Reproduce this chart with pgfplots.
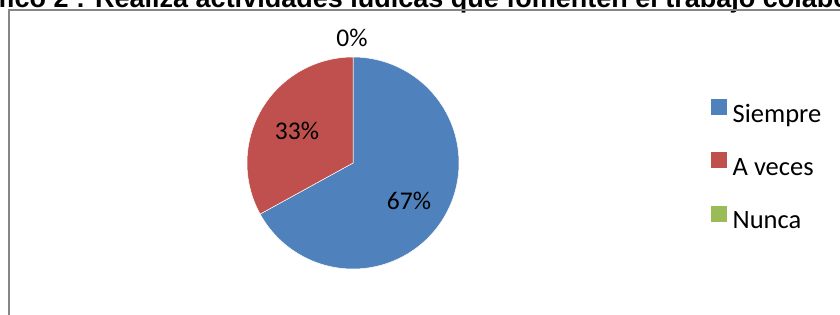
\documentclass[border=0pt]{standalone}
\usepackage{fontspec}
\setmainfont{Carlito}
\newfontfamily\titlefont{Liberation Sans}
\usepackage{pgfplots}
\pgfplotsset{compat=1.18}
\definecolor{sblue}{HTML}{4F81BD}
\definecolor{sred}{HTML}{C0504D}
\definecolor{sgreen}{HTML}{9BBB59}
\definecolor{framegray}{RGB}{134,134,134}
% values (percent): Siempre, A veces, Nunca
\def\vSiempre{67}
\def\vAveces{33}
\def\vNunca{0}
\begin{document}
\begin{tikzpicture}
\useasboundingbox (0,0) rectangle (840pt,314pt);
\clip (0,0) rectangle (840pt,314pt);
\fill[white] (0,0) rectangle (840pt,314pt);
\node[anchor=base east, inner sep=0pt, font=\titlefont\bfseries\fontsize{27}{32}\selectfont] at (-2pt,306.8pt) {Grá};
\node[anchor=base west, inner sep=0pt, font=\titlefont\bfseries\fontsize{27}{32}\selectfont] at (-2pt,306.8pt) {fico 2 : Realiza actividades lúdicas que fomenten el trabajo colaborativo};
\draw[framegray, line width=2pt] (9pt,-10pt) -- (9pt,304.3pt) -- (850pt,304.3pt);
\begin{axis}[
  at={(247pt,45pt)}, anchor=south west,
  scale only axis, width=212pt, height=212pt,
  xmin=-1, xmax=1, ymin=-1, ymax=1,
  hide axis, clip=false,
  legend cell align=left,
  legend image code/.code={\fill[#1] (0pt,2pt) rectangle (15pt,17pt);},
  legend style={draw=none, fill=none, at={(2.189,0.481)}, anchor=west,
    inner sep=0pt, column sep=6pt, row sep=24pt,
    font=\fontsize{26.5}{31}\selectfont,
    nodes={inner sep=0pt, text height=18pt, text depth=6pt}},
]
\addplot[fill=sblue, draw=white, line width=0.5pt, domain=0:\vSiempre, samples=150, forget plot]
  ({cos(90-3.6*x)},{sin(90-3.6*x)}) -- (axis cs:0,0) -- cycle;
\addplot[fill=sred, draw=white, line width=0.5pt, domain=\vSiempre:\vSiempre+\vAveces, samples=100, forget plot]
  ({cos(90-3.6*x)},{sin(90-3.6*x)}) -- (axis cs:0,0) -- cycle;
\addlegendimage{sblue}\addlegendentry{Siempre}
\addlegendimage{sred}\addlegendentry{A veces}
\addlegendimage{sgreen}\addlegendentry{Nunca}
\node[font=\fontsize{25.5}{30}\selectfont] at (axis cs:0.528,-0.358) {67\%};
\node[font=\fontsize{25.5}{30}\selectfont] at (axis cs:-0.528,0.302) {33\%};
\node[font=\fontsize{25.5}{30}\selectfont] at (axis cs:-0.01,1.18) {0\%};
\end{axis}
\end{tikzpicture}
\end{document}
